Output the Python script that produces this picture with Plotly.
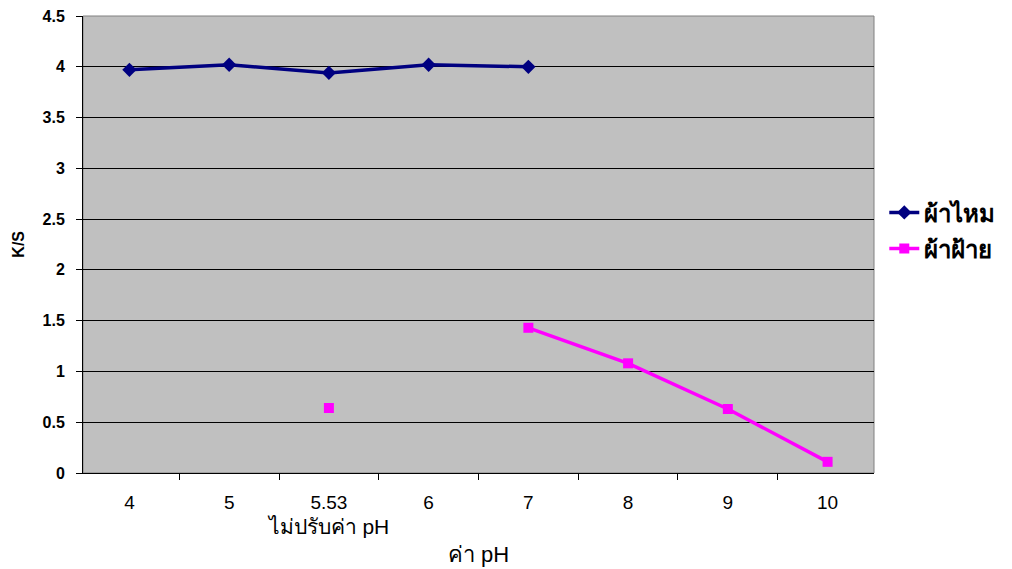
import plotly.graph_objects as go

categories = ["4", "5", "5.53", "6", "7", "8", "9", "10"]
tick_labels = ["4", "5", "5.53<br><span style=\"font-size:21px\">ไม่ปรับค่า pH</span>",
               "6", "7", "8", "9", "10"]
silk = [3.97, 4.02, 3.94, 4.02, 4.00, None, None, None]
cotton = [None, None, 0.64, None, 1.43, 1.08, 0.63, 0.11]
y_ticks = [0, 0.5, 1, 1.5, 2, 2.5, 3, 3.5, 4, 4.5]

fig = go.Figure()
fig.add_trace(go.Scatter(
    x=categories, y=silk, name="<b>ผ้าไหม</b>", mode="lines+markers",
    line=dict(color="#000080", width=3.5),
    marker=dict(symbol="diamond", size=11, color="#000080"),
    connectgaps=False, legendgroup="a",
))
fig.add_trace(go.Scatter(
    x=categories, y=cotton, name="<b>ผ้าฝ้าย</b>", mode="lines+markers",
    line=dict(color="#FF00FF", width=3.5),
    marker=dict(symbol="square", size=10, color="#FF00FF"),
    connectgaps=False, legendgroup="b",
))

fig.update_layout(
    width=1012, height=569,
    margin=dict(l=83, r=136, t=16, b=96),
    paper_bgcolor="white",
    plot_bgcolor="#C0C0C0",
    font=dict(family="Arial, Liberation Sans, sans-serif", color="black"),
    showlegend=True,
    legend=dict(
        x=1.013, y=0.53, xanchor="left", yanchor="middle",
        font=dict(size=24, color="black"),
        bgcolor="rgba(0,0,0,0)",
        tracegroupgap=2,
    ),
    xaxis=dict(
        type="category",
        categoryorder="array", categoryarray=categories,
        tickvals=categories, ticktext=tick_labels,
        tickson="boundaries",
        ticks="outside", ticklen=6, tickcolor="black",
        showline=True, linecolor="black", linewidth=1,
        showgrid=False,
        tickangle=0,
        automargin=False,
        ticklabelstandoff=12,
        tickfont=dict(size=19, color="black"),
    ),
    yaxis=dict(
        range=[0, 4.5],
        tickvals=y_ticks,
        ticktext=[f"<b>{v:g}</b>" for v in y_ticks],
        ticks="outside", ticklen=6, tickcolor="black",
        showline=True, linecolor="black", linewidth=1,
        showgrid=True, gridcolor="black", gridwidth=1,
        zeroline=False,
        automargin=False,
        ticklabelstandoff=8,
        tickfont=dict(size=16, color="black"),
    ),
    annotations=[
        dict(text="ค่า pH", xref="paper", yref="paper", x=0.5, y=-0.178,
             xanchor="center", yanchor="middle", showarrow=False,
             font=dict(size=22, color="black")),
        dict(text="<b>K/S</b>", xref="paper", yref="paper", x=-0.082, y=0.5,
             xanchor="center", yanchor="middle", showarrow=False, textangle=-90,
             font=dict(size=16, color="black")),
    ],
)

fig.add_shape(type="rect", xref="paper", yref="paper", x0=0, y0=0, x1=1, y1=1,
              line=dict(color="#808080", width=1), layer="below")

fig.write_html("out.html")
